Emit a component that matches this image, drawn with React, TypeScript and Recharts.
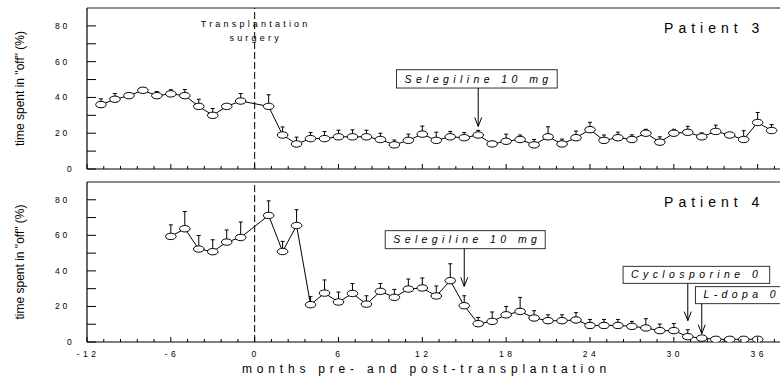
import React from 'react'
import { LineChart, Line, XAxis, YAxis, ErrorBar, ReferenceLine, ReferenceDot } from 'recharts'

// mois avant / après la greffe (pas de mesure au mois 0)
const months3 = [-11, -10, -9, -8, -7, -6, -5, -4, -3, -2, -1,
  1, 2, 3, 4, 5, 6, 7, 8, 9, 10, 11, 12, 13, 14, 15, 16, 17, 18, 19, 20,
  21, 22, 23, 24, 25, 26, 27, 28, 29, 30, 31, 32, 33, 34, 35, 36, 37]
const offTime3 = [36, 39, 41, 44, 41, 42, 41, 35, 30, 35, 38,
  35, 19, 14, 17, 17, 18, 18, 18, 16.5, 13.5, 16, 19.5, 16, 18, 17.5, 19, 14, 15.5, 16.5, 13.5,
  18, 14, 17.5, 22, 16, 17.5, 16.5, 20, 15, 20, 20.5, 18, 21, 19, 16.5, 26, 21.5]
const errUp3 = [3.2, 3.2, 0, 0, 2.3, 2.3, 3.4, 4, 3.8, 0, 4.2,
  6.5, 4.5, 3.8, 3.3, 3.9, 3.7, 3.9, 3.7, 3.5, 2.7, 3.5, 4.5, 4.6, 3, 2.9, 2.6, 1.5, 4, 2.5, 3,
  5.6, 2.7, 3.7, 4.1, 3, 3.1, 2.6, 2.2, 3, 2.2, 3.4, 2.2, 3.5, 0, 4.9, 5.6, 3.3]

const months4 = [-6, -5, -4, -3, -2, -1,
  1, 2, 3, 4, 5, 6, 7, 8, 9, 10, 11, 12, 13, 14, 15, 16, 17, 18, 19, 20,
  21, 22, 23, 24, 25, 26, 27, 28, 29, 30, 31, 32, 33, 34, 35, 36]
const offTime4 = [59.4, 63.7, 52.3, 50.8, 56.2, 58.8,
  71.2, 50.9, 65.5, 21, 27.5, 22.5, 27.3, 21.3, 28.5, 25.1, 29.8, 30.4, 25.9, 34.5, 20.4, 10.3, 11.6, 15.3, 17.2, 13.5,
  12, 12, 12.4, 9.3, 9.3, 9.3, 8.8, 7.9, 6.4, 6.4, 3, 2.2, 1.5, 1.5, 1.5, 1.5]
const errUp4 = [6.5, 9.7, 7.6, 6.7, 6.8, 8.7,
  8.2, 5.7, 8.9, 4.5, 7.4, 5.6, 5.6, 4.7, 4.4, 4.5, 5.6, 5.6, 5.6, 9.5, 5.6, 3.5, 5.3, 4.7, 7.9, 4.1,
  3.3, 3.3, 4.1, 3.4, 3.4, 3.4, 2.8, 5.2, 3.7, 4, 3.9, 0, 0, 0, 0, 0]

const xMajorTicks = [-12, -6, 0, 6, 12, 18, 24, 30, 36]
const yTicks = [0, 10, 20, 30, 40, 50, 60, 70, 80]
const yLabelTicks = [0, 20, 40, 60, 80]

const FONT = '"Liberation Sans", Arial, Helvetica, sans-serif'
const X_DOMAIN: [number, number] = [-12, 37.6]
const Y_DOMAIN: [number, number] = [0, 90]
const Y_AXIS_W = 87

// 5 subdivisions entre les graduations principales
const xTicks: number[] = []
xMajorTicks.forEach((m) => {
  for (let j = 0; j < 5; j++) {
    const v = Math.round((m + j * 1.2) * 100) / 100
    if (v <= X_DOMAIN[1]) xTicks.push(v)
  }
})

const toRows = (months: number[], mean: number[], err: number[]) =>
  months.map((m, i) => ({ month: m, off: mean[i], err: [0, err[i]] }))

const rows3 = toRows(months3, offTime3, errUp3)
const rows4 = toRows(months4, offTime4, errUp4)

function XTick(props: any) {
  const { x, y, payload, showLabel } = props
  const v = payload.value
  const major = xMajorTicks.includes(v)
  return (
    <g>
      <line x1={x} x2={x} y1={y} y2={y - (major ? 5 : 3)} stroke="#000" />
      {showLabel && major && (
        <text x={x + 1} y={y + 14.5} textAnchor="middle" fontSize={8.5} letterSpacing={3.5} fontFamily={FONT} fill="#000">
          {v}
        </text>
      )}
    </g>
  )
}

function YTick(props: any) {
  const { y, payload } = props
  const x = Y_AXIS_W
  const v = payload.value
  return (
    <g>
      <line x1={x} x2={x + 9} y1={y} y2={y} stroke="#000" />
      {yLabelTicks.includes(v) && (
        <text
          x={x - (String(v).length > 1 ? 32 : 20)}
          y={y + 3}
          textAnchor="start"
          fontSize={8.5}
          letterSpacing={2.8}
          fontFamily={FONT}
          fill="#000"
        >
          {v}
        </text>
      )}
    </g>
  )
}

const Ellipse = (p: any) => {
  if (p.cx == null || p.cy == null) return <g key={p.index} />
  return <ellipse key={p.index} cx={p.cx} cy={p.cy} rx={5.3} ry={3.2} fill="#fff" stroke="#000" strokeWidth={1} />
}

function Callout(props: any) {
  const { cx, cy, text, dx, w, h, shaft } = props
  const bottom = cy - shaft
  return (
    <g>
      <rect x={cx + dx} y={bottom - h} width={w} height={h} fill="#fff" stroke="#333" />
      <text x={cx + dx + 8} y={bottom - 5.5} textAnchor="start" fontStyle="italic" fontSize={10.5} letterSpacing={4.4} fontFamily={FONT} fill="#000">
        {text}
      </text>
      <line x1={cx} y1={bottom} x2={cx} y2={cy} stroke="#000" />
      <polyline points={`${cx - 3.5},${cy - 9} ${cx},${cy} ${cx + 3.5},${cy - 9}`} fill="none" stroke="#000" />
    </g>
  )
}

function PatientTag(props: any) {
  return (
    <text x={props.cx + 6.7} y={props.cy + 25} textAnchor="end" fontSize={14} letterSpacing={5} fontFamily={FONT} fill="#000">
      {props.text}
    </text>
  )
}

function SurgeryTag(props: any) {
  const { cx, cy } = props
  return (
    <g fontSize={9} letterSpacing={3.2} fontFamily={FONT} fill="#000" textAnchor="middle">
      <text x={cx + 1} y={cy + 19.3}>Transplantation</text>
      <text x={cx + 1} y={cy + 33}>surgery</text>
    </g>
  )
}

const yTitle = (p: any) => {
  const vb = p.viewBox
  const cx = 24
  const cy = vb.y + vb.height / 2
  return (
    <text x={cx} y={cy} transform={`rotate(-90 ${cx} ${cy})`} textAnchor="middle" fontSize={12} fontFamily={FONT} fill="#000">
      time spent in "off" (%)
    </text>
  )
}

const xTitle = (p: any) => {
  const vb = p.viewBox
  return (
    <text x={vb.x + vb.width / 2 - 7} y={vb.y + 31} textAnchor="middle" fontSize={12} letterSpacing={4.8} fontFamily={FONT} fill="#000">
      months pre- and post-transplantation
    </text>
  )
}

export default function App() {
  const common = (showLabels: boolean, h: number, xTitleOn: boolean) => [
    <XAxis
      key="x"
      type="number"
      dataKey="month"
      domain={X_DOMAIN}
      allowDataOverflow
      ticks={xTicks}
      interval={0}
      height={h}
      tickSize={0}
      tickMargin={0}
      tickLine={false}
      axisLine={{ stroke: '#000', strokeWidth: 1.2 }}
      tick={(p: any) => <XTick {...p} showLabel={showLabels} />}
      label={xTitleOn ? xTitle : undefined}
    />,
    <YAxis
      key="y"
      type="number"
      domain={Y_DOMAIN}
      allowDataOverflow
      ticks={yTicks}
      interval={0}
      width={Y_AXIS_W}
      tickSize={0}
      tickMargin={0}
      tickLine={false}
      axisLine={{ stroke: '#000', strokeWidth: 1.2 }}
      tick={(p: any) => <YTick {...p} />}
      label={yTitle}
    />,
    <ReferenceLine key="top" y={90} stroke="#666" strokeWidth={1.5} />,
    <ReferenceLine key="surgery" x={0} stroke="#000" strokeDasharray="7 3" />,
    <Line key="line" type="linear" dataKey="off" stroke="#000" strokeWidth={1} dot={false} isAnimationActive={false}>
      <ErrorBar dataKey="err" direction="y" width={2} stroke="#000" strokeWidth={1} isAnimationActive={false} />
    </Line>,
    <Line key="dots" type="linear" dataKey="off" stroke="none" dot={Ellipse} activeDot={false} isAnimationActive={false} />,
  ]

  return (
    <div style={{ position: 'absolute', left: 0, top: 0, width: 780, height: 379, background: '#fff', fontFamily: FONT }}>
      <div style={{ position: 'absolute', left: 0, top: 0 }}>
        <LineChart width={780} height={175} data={rows3} margin={{ top: 8, right: 0, bottom: 0, left: 0 }}>
          {common(false, 6, false)}
          <ReferenceDot x={0} y={90} r={0} ifOverflow="visible" shape={(p: any) => <SurgeryTag {...p} />} />
          <ReferenceDot x={36} y={90} r={0} ifOverflow="visible" shape={(p: any) => <PatientTag {...p} text="Patient 3" />} />
          <ReferenceDot
            x={16}
            y={23.8}
            r={0}
            ifOverflow="visible"
            shape={(p: any) => <Callout {...p} text="Selegiline 10 mg" dx={-81.7} w={160.7} h={18.3} shaft={38.4} />}
          />
        </LineChart>
      </div>
      <div style={{ position: 'absolute', left: 0, top: 175 }}>
        <LineChart width={780} height={204} data={rows4} margin={{ top: 7, right: 0, bottom: 0, left: 0 }}>
          {common(true, 37, true)}
          <ReferenceDot x={36} y={90} r={0} ifOverflow="visible" shape={(p: any) => <PatientTag {...p} text="Patient 4" />} />
          <ReferenceDot
            x={15}
            y={31.3}
            r={0}
            ifOverflow="visible"
            shape={(p: any) => <Callout {...p} text="Selegiline 10 mg" dx={-79} w={160} h={18} shaft={37.7} />}
          />
          <ReferenceDot
            x={31}
            y={12}
            r={0}
            ifOverflow="visible"
            shape={(p: any) => <Callout {...p} text="Cyclosporine 0" dx={-64.7} w={146.6} h={17} shaft={37.3} />}
          />
          <ReferenceDot
            x={32}
            y={4.7}
            r={0}
            ifOverflow="visible"
            shape={(p: any) => <Callout {...p} text="L-dopa 0" dx={-6.3} w={100} h={17} shaft={30} />}
          />
        </LineChart>
      </div>
    </div>
  )
}
